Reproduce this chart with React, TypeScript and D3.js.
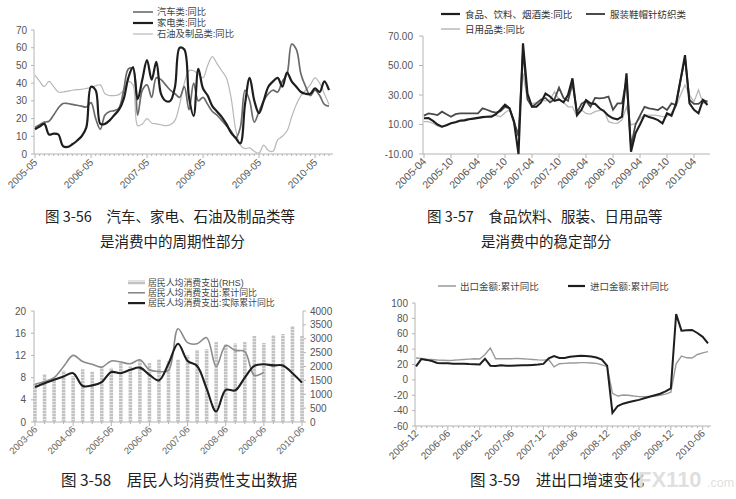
import React from "react";
import * as d3 from "d3";

// ---------- 图 3-56 (monthly from 2005-05) ----------
const fig56Ticks = ["2005-05", "2006-05", "2007-05", "2008-05", "2009-05", "2010-05"];
const fig56YTicks = [0, 10, 20, 30, 40, 50, 60, 70];
const fig56Legend = ["汽车类:同比", "家电类:同比", "石油及制品类:同比"];
const fig56Auto = [15, 16.5, 18, 18.5, 22, 26, 28.5, 28.5, 28, 27.5, 27, 26.5, 29, 20, 14, 22, 24, 24.5, 26,
  36, 48, 48, 22, 36, 39, 32, 43, 42, 39, 36, 34, 32, 38, 25, 40, 30,
  32, 28, 24, 22, 19, 16, 13, 9, 15, 36, 30, 18, 24, 30, 34, 36, 35, 41, 45, 62, 59, 45, 38, 33, 36, 33, 28, 27];
const fig56Appliance = [14, 15.5, 17, 11, 11.5, 11, 4.5, 4, 5.5, 7.5, 10, 15, 38, 36, 17, 17, 19, 22, 25,
  31, 43, 49, 31, 42, 53, 42, 52, 34, 30, 30, 38, 60, 59, 32, 21.5, 48, 37, 33, 27, 24, 21, 17, 12, 9,
  6, 28, 43, 30, 23, 30, 38, 41, 43, 38, 46, 41, 38, 35, 34, 34, 37, 35, 41, 36];
const fig56Oil = [44.5, 41, 38, 41, 38, 35, 35, 35.5, 36, 36.3, 36.5, 37, 37.5, 38.5, 39, 34, 33, 33, 33.5, 36,
  41, 39, 16, 17, 20, 17.5, 17, 16.5, 16, 16.5, 19, 28, 40, 47, 47, 45, 43, 50, 55, 51, 47, 43, 32, 14, 5,
  3, 3.5, 1.5, 0.5, 5, 2, 1.5, 8, 10, 13, 21, 28, 33, 36, 39, 43, 40, 34, 28];

// ---------- 图 3-57 (monthly from 2005-04) ----------
const fig57Ticks = ["2005-04", "2005-10", "2006-04", "2006-10", "2007-04", "2007-10", "2008-04", "2008-10", "2009-04", "2009-10", "2010-04"];
const fig57YTicks = [70, 50, 30, 10, -10];
const fig57Legend = ["食品、饮料、烟酒类:同比", "服装鞋帽针纺织类", "日用品类:同比"];
const fig57Food = [14.2, 14.3, 12.5, 10, 8.5, 9.5, 10.8, 11.5, 12.5, 12.8, 13.5, 14, 14.5, 15, 15.3, 15.3, 17, 20, 23.5, 21,
  12, -10, 65, 31, 22, 22, 25, 31, 29, 26, 27, 25, 30, 41.3, 16.4, 20, 26.6, 24.3, 24, 21, 19, 16, 14.2, 13.5, 15.3,
  44.7, -8.4, 4, 10, 16.4, 15, 14.2, 13, 10.8, 17.6, 16, 24, 40, 57, 24.3, 20, 17.6, 26.6, 23.2];
const fig57Clothing = [16, 17.5, 17, 16.4, 18.7, 17, 15.3, 17, 17.6, 17.6, 17.6, 17.6, 17.6, 21, 20, 18.7, 18, 19, 22, 21,
  12, 2, 60, 27, 22, 24.3, 27, 28, 25, 27, 35, 28, 26, 38, 18, 24, 26, 22, 28, 27.7, 28, 28.9, 20, 24.3, 24.3,
  40, -5, 10, 16, 22, 21, 20.5, 19.8, 22, 19.8, 24.3, 23.2, 40, 55, 26.6, 24, 24, 26.6, 25.5];
const fig57Daily = [12, 11.9, 10.8, 9, 8.1, 10, 10.8, 12, 13, 13.5, 14, 14.2, 14.2, 15, 15.5, 16.4, 16, 15.3, 18, 20,
  10, 5, 44.7, 26.6, 24, 25, 26.6, 26, 26.6, 32.3, 27, 25, 22, 22, 15.3, 19.8, 17.6, 17, 18.7, 19.5, 19.8,
  11.9, 11, 10.8, 13, 22, 9.7, 10.8, 14, 16.4, 16.4, 16.4, 16, 15.3, 15.5, 18, 22, 30, 36.8, 30, 25.5, 33.4, 24.3, 25.5];

// ---------- 图 3-58 (quarterly from 2003-06) ----------
const fig58Ticks = ["2003-06", "2004-06", "2005-06", "2006-06", "2007-06", "2008-06", "2009-06", "2010-06"];
const fig58LeftTicks = [0, 4, 8, 12, 16, 20];
const fig58RightTicks = [0, 500, 1000, 1500, 2000, 2500, 3000, 3500, 4000];
const fig58Legend = ["居民人均消费支出(RHS)", "居民人均消费支出:累计同比", "居民人均消费支出:实际累计同比"];
const fig58Spend = [1400, 1730, 1600, 1850, 1650, 1900, 1820, 2000, 1950, 2120, 2000, 2230, 2120, 2260, 2200,
  2250, 2400, 2600, 2620, 2880, 2800, 2830, 2880, 3100, 2850, 3130, 3170, 3460, 3100];
const fig58Nominal = [6.8, 7.3, 8.0, 10.0, 12.0, 10.9, 10.4, 9.9, 11.0, 10.8, 10.5, 11.2, 9.4, 9.1, 9.3,
  16.8, 14.3, 14.1, 15.2, 10.0, 13.8, 12.9, 12.7, 8.4, 9.0];
const fig58Real = [6.3, 7.0, 7.6, 8.2, 8.8, 6.5, 6.6, 7.2, 9.0, 8.8, 9.4, 9.8, 8.5, 7.5, 10.5,
  14.1, 11.0, 10.1, 6.0, 1.9, 5.8, 5.7, 8.0, 10.1, 10.4, 10.2, 10.2, 8.8, 7.1];

// ---------- 图 3-59 (monthly from 2005-12) ----------
const fig59Ticks = ["2005-12", "2006-06", "2006-12", "2007-06", "2007-12", "2008-06", "2008-12", "2009-06", "2009-12", "2010-06"];
const fig59YTicks = [100, 80, 60, 40, 20, 0, -20, -40, -60];
const fig59Legend = ["出口金额:累计同比", "进口金额:累计同比"];
const fig59Export = [28.4, 28, 27, 26.5, 25.8, 25.5, 25.3, 25.5, 26, 26.5, 27, 27.5, 27.2, 33, 41.5, 27.5, 27.5, 27.5, 27.5, 28,
  27.5, 27, 26.5, 26, 25.7, 26.5, 17, 21, 21.5, 22, 22, 22.5, 22.5, 22, 21.5, 19.5, 17.2, -17.5, -21, -19.7,
  -20, -21, -21.8, -22, -21.5, -21, -20, -18.5, -16, 21, 31, 28.7, 28.5, 33, 35.2, 36.7];
const fig59Import = [17.5, 27, 26, 24.5, 22, 21.5, 21.5, 21, 21, 21, 20.5, 20.3, 20, 27.5, 18.5, 18.2, 19, 18.5, 18.3, 18.8,
  19, 19, 19.5, 20, 20.8, 28, 31, 28.6, 28.5, 30, 30.8, 31.5, 31, 30.5, 29, 26.5, 18.5, -43, -34, -31,
  -29, -27.5, -26, -24, -22, -20, -18, -15, -11, 85.5, 64, 64.5, 65, 61, 56, 47.5];

const captions = {
  a1: "图 3-56\u3000汽车、家电、石油及制品类等",
  a2: "是消费中的周期性部分",
  b1: "图 3-57\u3000食品饮料、服装、日用品等",
  b2: "是消费中的稳定部分",
  c: "图 3-58\u3000居民人均消费性支出数据",
  d: "图 3-59\u3000进出口增速变化",
};

const NUM = "'Liberation Sans', Arial, sans-serif";
const CJK = "'Noto Sans CJK SC', 'Noto Sans', sans-serif";
const LEG = "'Liberation Sans', 'Noto Sans CJK SC', sans-serif";
const AXIS = "#b4b4b4";
const TXT = "#555";
const BLACK = "#1e1e1e";
const MID = "#6a6a6a";
const LIGHT = "#b8b8b8";

function RotLabels({ labels, xs, y, size, color }: { labels: string[]; xs: number[]; y: number; size: number; color: string }) {
  return (
    <g>
      {labels.map((t, i) => (
        <text key={t} transform={`translate(${xs[i] + 3},${y}) rotate(-45)`} textAnchor="end"
          fontSize={size} fill={color} fontFamily={NUM}>{t}</text>
      ))}
    </g>
  );
}

function Fig56() {
  const n = fig56Oil.length;
  const x = d3.scaleLinear().domain([0, n - 1]).range([35, 329]);
  const y = d3.scaleLinear().domain([0, 70]).range([154, 30]);
  const line = d3.line<number>().x((_, i) => x(i)).y((d) => y(d)).curve(d3.curveCatmullRom.alpha(0.5));
  const tickIdx = fig56Ticks.map((_, k) => k * 12);
  const legendColors = [MID, BLACK, LIGHT];
  const legendW = [1.6, 2.2, 1.2];
  return (
    <g>
      <line x1={34} x2={34} y1={y(70)} y2={y(0)} stroke={AXIS} />
      <line x1={34} x2={333} y1={y(0)} y2={y(0)} stroke={AXIS} />
      {fig56YTicks.map((t) => (
        <g key={t}>
          <line x1={31} x2={34} y1={y(t)} y2={y(t)} stroke={AXIS} />
          <text x={27} y={y(t) + 3.5} textAnchor="end" fontSize={10} fill={TXT} fontFamily={NUM}>{t}</text>
        </g>
      ))}
      {d3.range(n).map((i) => (
        <line key={i} x1={x(i)} x2={x(i)} y1={y(0)} y2={y(0) + (i % 12 === 0 ? 4 : 2)} stroke={AXIS} />
      ))}
      <path d={line(fig56Oil) || ""} fill="none" stroke={LIGHT} strokeWidth={1.2} />
      <path d={line(fig56Auto) || ""} fill="none" stroke={MID} strokeWidth={1.7} />
      <path d={line(fig56Appliance) || ""} fill="none" stroke={BLACK} strokeWidth={2.2} />
      <RotLabels labels={fig56Ticks} xs={tickIdx.map((i) => x(i))} y={y(0) + 9} size={10} color={TXT} />
      {fig56Legend.map((t, i) => (
        <g key={t}>
          <line x1={133} x2={153} y1={12 + i * 11} y2={12 + i * 11} stroke={legendColors[i]} strokeWidth={legendW[i]} />
          <text x={157} y={15.4 + i * 11} fontSize={9.3} fill="#444" fontFamily={LEG}>{t}</text>
        </g>
      ))}
    </g>
  );
}

function Fig57() {
  const n = fig57Food.length;
  const x = d3.scaleLinear().domain([0, n - 1]).range([424, 707.5]);
  const y = d3.scaleLinear().domain([-10, 70]).range([154, 36]);
  const line = d3.line<number>().x((_, i) => x(i)).y((d) => y(d));
  const tickIdx = fig57Ticks.map((_, k) => k * 6);
  return (
    <g>
      <line x1={423} x2={423} y1={y(70)} y2={y(-10)} stroke={AXIS} />
      <line x1={423} x2={710} y1={y(-10)} y2={y(-10)} stroke={AXIS} />
      {fig57YTicks.map((t) => (
        <g key={t}>
          <line x1={419} x2={423} y1={y(t)} y2={y(t)} stroke={AXIS} />
          <text x={413} y={y(t) + 3.5} textAnchor="end" fontSize={10} fill={TXT} fontFamily={NUM}>{t.toFixed(2)}</text>
        </g>
      ))}
      {tickIdx.map((i) => (
        <line key={i} x1={x(i)} x2={x(i)} y1={y(-10)} y2={y(-10) + 4} stroke={AXIS} />
      ))}
      <path d={line(fig57Daily) || ""} fill="none" stroke={LIGHT} strokeWidth={1.3} />
      <path d={line(fig57Clothing) || ""} fill="none" stroke="#4a4a4a" strokeWidth={1.8} />
      <path d={line(fig57Food) || ""} fill="none" stroke={BLACK} strokeWidth={2.1} />
      <RotLabels labels={fig57Ticks} xs={tickIdx.map((i) => x(i))} y={y(-10) + 8} size={10.5} color={TXT} />
      <line x1={441} x2={460} y1={14} y2={14} stroke={BLACK} strokeWidth={2.2} />
      <text x={465} y={17.5} fontSize={9.5} fill="#333" fontFamily={LEG}>{fig57Legend[0]}</text>
      <line x1={586} x2={605} y1={14} y2={14} stroke="#4a4a4a" strokeWidth={2} />
      <text x={610} y={17.5} fontSize={9.5} fill="#333" fontFamily={LEG}>{fig57Legend[1]}</text>
      <line x1={441} x2={460} y1={29} y2={29} stroke={LIGHT} strokeWidth={1.5} />
      <text x={465} y={32.5} fontSize={9.5} fill="#333" fontFamily={LEG}>{fig57Legend[2]}</text>
    </g>
  );
}

function Fig58() {
  const n = fig58Spend.length;
  const x = d3.scaleLinear().domain([0, n - 1]).range([35, 302]);
  const yL = d3.scaleLinear().domain([0, 20]).range([422, 311]);
  const yR = d3.scaleLinear().domain([0, 4000]).range([422, 311]);
  const line = d3.line<number>().x((_, i) => x(i)).y((d) => yL(d)).curve(d3.curveCatmullRom.alpha(0.5));
  const tickIdx = fig58Ticks.map((_, k) => k * 4);
  const legY = [282.5, 292.8, 303.1];
  return (
    <g>
      <defs>
        <pattern id="hatch" width={4} height={3} patternUnits="userSpaceOnUse">
          <rect width={4} height={3} fill="#e4e4e4" />
          <rect width={4} height={2} fill="#c2c2c2" />
        </pattern>
      </defs>
      <line x1={34} x2={34} y1={311} y2={422} stroke={AXIS} />
      <line x1={303} x2={303} y1={311} y2={422} stroke={AXIS} />
      <line x1={34} x2={303} y1={422} y2={422} stroke={AXIS} />
      {fig58LeftTicks.map((t) => (
        <g key={t}>
          <line x1={31} x2={34} y1={yL(t)} y2={yL(t)} stroke={AXIS} />
          <text x={26} y={yL(t) + 3.5} textAnchor="end" fontSize={10} fill={TXT} fontFamily={NUM}>{t}</text>
        </g>
      ))}
      {fig58RightTicks.map((t) => (
        <g key={t}>
          <line x1={303} x2={306} y1={yR(t)} y2={yR(t)} stroke={AXIS} />
          <text x={310} y={yR(t) + 3.5} fontSize={10} fill={TXT} fontFamily={NUM}>{t}</text>
        </g>
      ))}
      {d3.range(n).map((i) => (
        <line key={i} x1={x(i)} x2={x(i)} y1={422} y2={422 + (i % 4 === 0 ? 4 : 2)} stroke={AXIS} />
      ))}
      {fig58Spend.map((v, i) => (
        <rect key={i} x={x(i) - 1.8} width={3.6} y={yR(v)} height={yR(0) - yR(v)} fill="url(#hatch)" />
      ))}
      <path d={line(fig58Nominal) || ""} fill="none" stroke="#8a8a8a" strokeWidth={1.6} />
      <path d={line(fig58Real) || ""} fill="none" stroke={BLACK} strokeWidth={2.1} />
      <RotLabels labels={fig58Ticks} xs={tickIdx.map((i) => x(i))} y={430} size={9.5} color="#666" />
      <rect x={128} y={legY[0] - 2} width={17} height={4} fill="url(#hatch)" />
      <line x1={128} x2={145} y1={legY[1]} y2={legY[1]} stroke="#8a8a8a" strokeWidth={1.6} />
      <line x1={128} x2={145} y1={legY[2]} y2={legY[2]} stroke={BLACK} strokeWidth={2.2} />
      {fig58Legend.map((t, i) => (
        <text key={t} x={148} y={legY[i] + 3.2} fontSize={8.9} fill="#444" fontFamily={LEG}>{t}</text>
      ))}
    </g>
  );
}

function Fig59() {
  const n = fig59Export.length;
  const x = d3.scaleLinear().domain([0, n - 1]).range([416, 708]);
  const y = d3.scaleLinear().domain([-60, 100]).range([426, 303]);
  const line = d3.line<number>().x((_, i) => x(i)).y((d) => y(d));
  const tickIdx = fig59Ticks.map((_, k) => k * 6);
  return (
    <g>
      <line x1={415} x2={415} y1={y(100)} y2={y(-60)} stroke={AXIS} />
      <line x1={415} x2={711} y1={y(-60)} y2={y(-60)} stroke={AXIS} />
      {fig59YTicks.map((t) => (
        <g key={t}>
          <line x1={412} x2={415} y1={y(t)} y2={y(t)} stroke={AXIS} />
          <text x={408} y={y(t) + 3.5} textAnchor="end" fontSize={10} fill={TXT} fontFamily={NUM}>{t}</text>
        </g>
      ))}
      {d3.range(n).map((i) => (
        <line key={i} x1={x(i)} x2={x(i)} y1={y(-60)} y2={y(-60) + (i % 6 === 0 ? 4 : 2)} stroke={AXIS} />
      ))}
      <path d={line(fig59Export) || ""} fill="none" stroke="#9a9a9a" strokeWidth={1.4} />
      <path d={line(fig59Import) || ""} fill="none" stroke={BLACK} strokeWidth={2} />
      <RotLabels labels={fig59Ticks} xs={tickIdx.map((i) => x(i))} y={y(-60) + 8} size={10} color={TXT} />
      <line x1={438} x2={456} y1={286} y2={286} stroke="#9a9a9a" strokeWidth={1.5} />
      <text x={460} y={289.5} fontSize={9.5} fill="#444" fontFamily={LEG}>{fig59Legend[0]}</text>
      <line x1={568} x2={585} y1={286} y2={286} stroke={BLACK} strokeWidth={2.2} />
      <text x={590} y={289.5} fontSize={9.5} fill="#444" fontFamily={LEG}>{fig59Legend[1]}</text>
    </g>
  );
}

export default function App() {
  return (
    <div style={{ position: "absolute", left: 0, top: 0, background: "#fff" }}>
      <svg width={736} height={499} viewBox="0 0 736 499" style={{ display: "block" }}>
        <rect width={736} height={499} fill="#fff" />
        <Fig56 />
        <Fig57 />
        <Fig58 />
        <Fig59 />
        <g fontFamily={CJK} fill="#222">
          <text x={45} y={222} fontSize={14.5}>{captions.a1}</text>
          <text x={100} y={247} fontSize={14.5}>{captions.a2}</text>
          <text x={427} y={222} fontSize={14.5}>{captions.b1}</text>
          <text x={481} y={247} fontSize={14.5}>{captions.b2}</text>
          <text x={61} y={485.5} fontSize={15.5}>{captions.c}</text>
          <text x={470} y={485.5} fontSize={15.5}>{captions.d}</text>
        </g>
        <g fill="#dcdcdc" fillOpacity={0.92} fontFamily={NUM}>
          <text x={638} y={487} fontSize={22} fontWeight="bold">FX110</text>
          <text x={707} y={487} fontSize={12.5}>.com</text>
        </g>
      </svg>
    </div>
  );
}
